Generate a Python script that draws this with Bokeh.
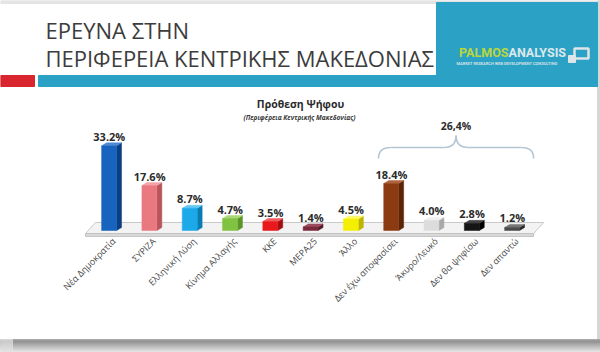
import math
from bokeh.plotting import figure
from bokeh.models import Range1d
from bokeh.core.properties import value
from bokeh.embed import file_html
from bokeh.resources import INLINE

# ---------------- data ----------------
categories = ["Νέα Δημοκρατία", "ΣΥΡΙΖΑ", "Ελληνική Λύση", "Κίνημα Αλλαγής", "ΚΚΕ",
              "ΜΕΡΑ25", "Άλλο", "Δεν έχω αποφασίσει", "Άκυρο/Λευκό", "Δεν θα ψηφίσω", "Δεν απαντώ"]
values = [33.2, 17.6, 8.7, 4.7, 3.5, 1.4, 4.5, 18.4, 4.0, 2.8, 1.2]
front_colors = ["#1763bd", "#ea7880", "#1ca9ea", "#80c342", "#e8191c", "#7b2a3c",
                "#f4ee00", "#8c3a12", "#dcdcdc", "#151515", "#4a4a4a"]
side_colors = ["#0c3f82", "#b8545c", "#0a7cb4", "#5a9628", "#a30e10", "#531a27",
               "#bdb500", "#5c2407", "#a9a9a9", "#000000", "#262626"]
top_colors = ["#4d8ad6", "#f4a3a8", "#63c7f2", "#a8d877", "#f25a5c", "#9c4c5e",
              "#fbf76a", "#b0643c", "#f0f0f0", "#444444", "#777777"]
bracket_first, bracket_last = 7, 10
bracket_label = "26,4%"
title_lines = ["ΕΡΕΥΝΑ ΣΤΗΝ", "ΠΕΡΙΦΕΡΕΙΑ ΚΕΝΤΡΙΚΗΣ ΜΑΚΕΔΟΝΙΑΣ"]
chart_title = "Πρόθεση Ψήφου"
chart_subtitle = "(Περιφέρεια Κεντρικής Μακεδονίας)"

# ---------------- geometry ----------------
W, H = 600, 352
PX_PER_CAT = 40.3
CAT0_PX = 110.0
PX_PER_PCT = 2.55
BASE_PX = 230.0
xs0 = -CAT0_PX / PX_PER_CAT
xe0 = xs0 + W / PX_PER_CAT
ye0 = BASE_PX / PX_PER_PCT
ys0 = ye0 - H / PX_PER_PCT


def X(px):
    return xs0 + px / PX_PER_CAT


def Y(py):
    return ye0 - py / PX_PER_PCT


def DX(px):
    return px / PX_PER_CAT


def DY(px):
    return px / PX_PER_PCT


p = figure(width=W, height=H, x_range=Range1d(xs0, xe0), y_range=Range1d(ys0, ye0),
           output_backend="svg", toolbar_location=None, min_border=0,
           background_fill_color="white", border_fill_color="white")
p.axis.visible = False
p.grid.visible = False
p.outline_line_color = None

# ---------------- slide frame ----------------
p.quad(left=[X(0)], right=[X(600)], top=[Y(0)], bottom=[Y(3)], color="#e4e4e4")
p.quad(left=[X(597)], right=[X(600)], top=[Y(0)], bottom=[Y(352)], color="#d6d6d6")
shadow = ["#a8a8a8", "#9a9a9a", "#959595", "#999999", "#a2a2a2", "#aaaaaa", "#b3b3b3",
          "#bbbbbb", "#c3c3c3", "#cbcbcb", "#d3d3d3", "#dbdbdb", "#e2e2e2"]
for k, c in enumerate(shadow):
    p.quad(left=[X(0)], right=[X(600)], top=[Y(339 + k)], bottom=[Y(340 + k)], color=c)
p.quad(left=[X(0)], right=[X(12)], top=[Y(339)], bottom=[Y(352)], color="#e2e2e2", alpha=0.7)

# ---------------- header ----------------
TEAL = "#2ba2c5"
p.quad(left=[X(0)], right=[X(34)], top=[Y(75)], bottom=[Y(86)], color="#d9262e")
p.quad(left=[X(38)], right=[X(597)], top=[Y(75)], bottom=[Y(86)], color=TEAL)
p.quad(left=[X(436)], right=[X(597)], top=[Y(2)], bottom=[Y(86)], color=TEAL)

p.text(x=[X(45)] * 2, y=[Y(29), Y(57.5)], text=title_lines,
       text_font=value("Open Sans"), text_font_size="22px", text_color="#3c3c3c",
       text_baseline="middle", text_align="left")

# logo
p.text(x=[X(508)], y=[Y(51.5)], text=["PALMOS"], text_font=value("Roboto"),
       text_font_style="bold", text_font_size="12.5px", text_color="#bcd63a",
       text_align="right", text_baseline="middle")
p.text(x=[X(508)], y=[Y(51.5)], text=["ANALYSIS"], text_font=value("Roboto"),
       text_font_style="bold", text_font_size="12.5px", text_color="#dde7eb",
       text_align="left", text_baseline="middle")
p.text(x=[X(456)], y=[Y(63)], text=["MARKET RESEARCH   WEB DEVELOPMENT   CONSULTING"],
       text_font=value("Roboto"), text_font_style="bold", text_font_size="4px",
       text_color="#d0e0e6", text_align="left", text_baseline="middle")
p.quad(left=[X(574)], right=[X(588)], top=[Y(48)], bottom=[Y(58)],
       fill_color=None, line_color="#dde5e8", line_width=2.5)
p.quad(left=[X(568)], right=[X(575)], top=[Y(55)], bottom=[Y(62)], color="#dde5e8")

# ---------------- chart titles ----------------
p.text(x=[X(300)], y=[Y(103)], text=[chart_title], text_font=value("Open Sans"),
       text_font_style="bold", text_font_size="10.5px", text_color="#2a2a2a",
       text_align="center", text_baseline="middle")
p.text(x=[X(299)], y=[Y(117)], text=[chart_subtitle], text_font=value("Open Sans"),
       text_font_style="bold italic", text_font_size="6.5px", text_color="#3a3a3a",
       text_align="center", text_baseline="middle")

# ---------------- floor ----------------
n = len(categories)
fl_l, fl_r = -0.62, (n - 1) + 0.5
f_front, f_back = DY(-3), DY(8)
skew = DX(10)
p.patch(x=[fl_l, fl_r, fl_r, fl_l], y=[f_front, f_front, f_front - DY(3), f_front - DY(3)],
        fill_color="#d8d8d8", line_color="#bdbdbd", line_width=0.8)
p.patch(x=[fl_l, fl_r, fl_r + skew, fl_l + skew], y=[f_front, f_front, f_back, f_back],
        fill_color="#f3f3f3", line_color="#bdbdbd", line_width=0.8)

# ---------------- bars ----------------
idx = list(range(n))
fl = [i - 0.22 for i in idx]
fr = [i + 0.15 for i in idx]
ddx, ddy = DX(5), DY(3)
side_x = [[fr[i], fr[i] + ddx, fr[i] + ddx, fr[i]] for i in idx]
side_y = [[0, ddy, values[i] + ddy, values[i]] for i in idx]
top_x = [[fl[i], fr[i], fr[i] + ddx, fl[i] + ddx] for i in idx]
top_y = [[values[i], values[i], values[i] + ddy, values[i] + ddy] for i in idx]
p.patches(xs=side_x, ys=side_y, fill_color=side_colors, line_color=side_colors, line_width=0.5)
p.patches(xs=top_x, ys=top_y, fill_color=top_colors, line_color=top_colors, line_width=0.5)
p.quad(left=fl, right=fr, bottom=[0] * n, top=values, fill_color=front_colors,
       line_color=front_colors, line_width=0.5)

# value labels
p.text(x=[i - 0.03 for i in idx], y=[v + ddy + DY(6.5) for v in values],
       text=[f"{v:.1f}%" for v in values], text_font=value("Open Sans"),
       text_font_style="bold", text_font_size="11px", text_color="#2b2b2b",
       text_align="center", text_baseline="middle")

# category labels
p.text(x=[i + 0.08 for i in idx], y=[DY(-9)] * n, text=categories, angle=math.pi / 4,
       text_font=value("Open Sans"), text_font_size="9px", text_color="#4a4a4a",
       text_align="right", text_baseline="middle")

# ---------------- bracket ----------------
bl = bracket_first - 0.35
br = bracket_last + 0.5
bm = (bl + br) / 2
y_end, y_mid, y_tip = Y(158), Y(147), Y(135)
a = DX(12)
bc = "#b4c6d3"
p.quadratic(x0=[bl, bm - a, br, bm + a], y0=[y_end, y_mid, y_end, y_mid],
            x1=[bl + a, bm, br - a, bm], y1=[y_mid, y_tip, y_mid, y_tip],
            cx=[bl, bm, br, bm], cy=[y_mid, y_mid, y_mid, y_mid],
            line_color=bc, line_width=1.6)
p.segment(x0=[bl + a, bm + a], y0=[y_mid, y_mid], x1=[bm - a, br - a], y1=[y_mid, y_mid],
          line_color=bc, line_width=1.6)
p.text(x=[bm], y=[Y(125)], text=[bracket_label], text_font=value("Open Sans"),
       text_font_style="bold", text_font_size="10.5px", text_color="#2b2b2b",
       text_align="center", text_baseline="middle")

open("out.html", "w").write(file_html(p, INLINE))
